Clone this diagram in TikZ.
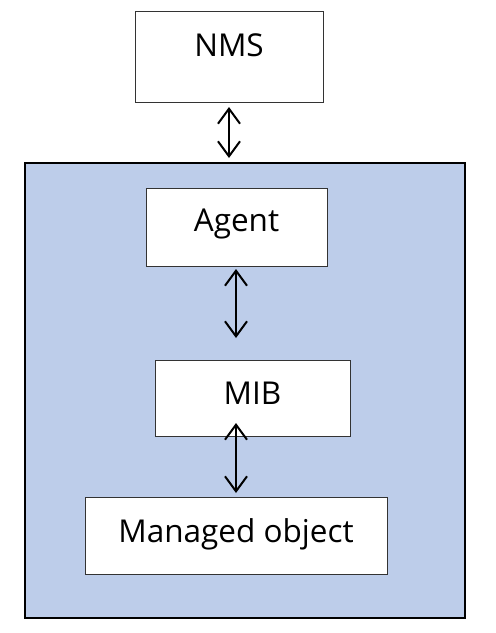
\documentclass[tikz,border=0pt]{standalone}
\usepackage{fontspec}
\setmainfont{Open Sans}
\usetikzlibrary{arrows.meta}
\definecolor{panel}{HTML}{BDCDEA}
\begin{document}
\begin{tikzpicture}[x=1pt,y=-1pt,
  box/.style={draw=black!80, line width=1pt, fill=white, inner sep=0pt},
  lbl/.style={font=\fontsize{31.5}{36}\selectfont, inner sep=0pt, anchor=base},
  dblarrow/.style={line width=2pt, {Straight Barb[length=15pt,width=22pt,line width=2pt]}-{Straight Barb[length=15pt,width=22pt,line width=2pt]}}]
\useasboundingbox (0,0) rectangle (496,633);
\fill[white] (0,0) rectangle (496,633);
% outer panel
\draw[line width=2.6pt, fill=panel] (25,163) rectangle (465,618);
\node[box, minimum width=188pt, minimum height=91pt] (nms) at (229,56.5) {};
\node[lbl] at (229,56) {NMS};
\node[box, minimum width=181pt, minimum height=78pt] (agent) at (236.5,227) {};
\node[lbl] at (236.5,231) {Agent};
\node[box, minimum width=195pt, minimum height=76pt] (mib) at (252.5,398) {};
\node[lbl] at (252.5,404) {MIB};
\node[box, minimum width=302pt, minimum height=77pt] (mo) at (236,535.5) {};
\node[lbl] at (236,542) {Managed object};
\coordinate (a1) at (229,107);
\coordinate (a2) at (229,158);
\coordinate (b1) at (236,269);
\coordinate (b2) at (236,338);
\coordinate (c1) at (236,423);
\coordinate (c2) at (236,493);
\draw[dblarrow] (a1) -- (a2);
\draw[dblarrow] (b1) -- (b2);
\draw[dblarrow] (c1) -- (c2);
\end{tikzpicture}
\end{document}
